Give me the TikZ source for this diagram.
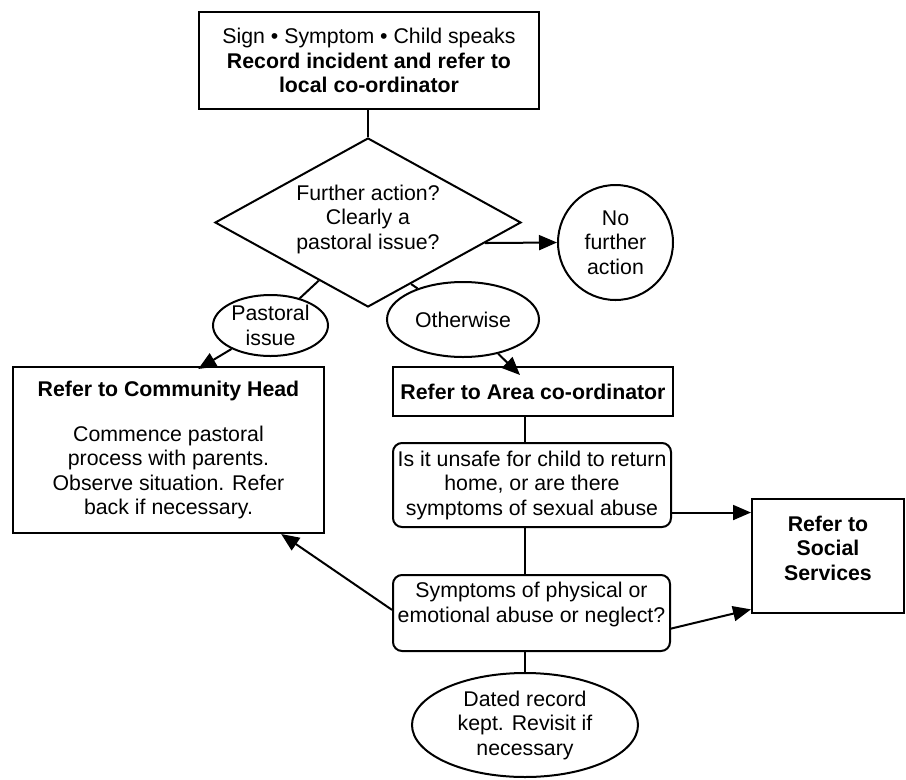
\documentclass[tikz,border=0pt]{standalone}
\usepackage{fontspec}
\setmainfont{Liberation Sans}
\usepackage{tikz}
\usetikzlibrary{shapes.geometric,arrows.meta,calc}

\begin{document}
\begin{tikzpicture}[x=1pt,y=-1pt,line width=2pt,
  font=\fontsize{21.3}{24.5}\selectfont,
  box/.style={draw,rectangle,align=center,inner sep=0pt},
  rbox/.style={box,rounded corners=9pt},
  oval/.style={draw,ellipse,align=center,inner sep=0pt},
  arr/.style={-{Triangle[length=18pt,width=15pt]}}]
\useasboundingbox (0,0) rectangle (906,780);
\node[box,minimum width=340pt,minimum height=97pt] (top) at (369,60.5)
  {Sign \textbullet{} Symptom \textbullet{} Child speaks\\\textbf{Record incident and refer to}\\\textbf{local co-ordinator}};
\node[draw,diamond,align=center,inner sep=0pt,minimum width=306pt,minimum height=169pt] (decide) at (368,222.5){};
\node[align=center] at (368,219){Further action?\\Clearly a\\pastoral issue?};
\node[draw,circle,align=center,inner sep=0pt,minimum size=115pt] (nofurther) at (615.5,242.5){No\\further\\action};
\node[oval,minimum width=115pt,minimum height=61pt] (pastoral) at (270.5,325.5){Pastoral\\issue};
\node[oval,minimum width=152pt,minimum height=75pt] (otherwise) at (463,319.5){Otherwise};
\node[box,minimum width=311pt,minimum height=166pt] (comm) at (168.5,450)
  {\textbf{Refer to Community Head}\\[20pt]Commence pastoral\\process with parents.\\Observe situation. Refer\\back if necessary.};
\node[box,minimum width=280pt,minimum height=49pt] (area) at (533,391.5){\textbf{Refer to Area co-ordinator}};
\node[rbox,minimum width=278pt,minimum height=84pt] (unsafe) at (532,485)
  {Is it unsafe for child to return\\home, or are there\\symptoms of sexual abuse};
\node[box,minimum width=152pt,minimum height=114pt] (social) at (828,556){};
\node[align=center] at (828,548){\textbf{Refer to}\\\textbf{Social}\\\textbf{Services}};
\node[rbox,minimum width=277pt,minimum height=76pt] (symptoms) at (531.5,613){};
\node[align=center] at (531.5,604.5){Symptoms of physical or\\emotional abuse or neglect?};
\node[oval,minimum width=226pt,minimum height=104pt] (dated) at (525,725)
  {Dated record\\kept. Revisit if\\necessary};
\draw (decide.north |- top.south) -- (decide.north);
\draw[arr] ($(decide.east)!0.24!(decide.south)$) -- (nofurther.west);
\draw (pastoral) -- ($(decide.west)!0.68!(decide.south)$);
\draw (otherwise) -- ($(decide.south)!0.28!(decide.east)$);
\draw[arr] (pastoral) -- ($(comm.north west)!0.595!(comm.north east)+(0,3)$);
\draw[arr] (otherwise) -- ($(area.north west)!0.454!(area.north east)+(0,9)$);
\draw (area.south -| dated) -- (unsafe.north -| dated);
\draw (unsafe.south -| dated) -- (symptoms.north -| dated);
\draw (symptoms.south -| dated) -- (dated.north);
\draw[arr] ($(unsafe.north east)!0.82!(unsafe.south east)$) coordinate (u) -- (u -| social.west);
\draw[arr] ($(symptoms.north east)!0.7!(symptoms.south east)$) -- ($(social.north west)!0.96!(social.south west)$);
\draw[arr] ($(symptoms.north west)!0.46!(symptoms.south west)$) -- ($(comm.south west)!0.86!(comm.south east)$);
\end{tikzpicture}
\end{document}
